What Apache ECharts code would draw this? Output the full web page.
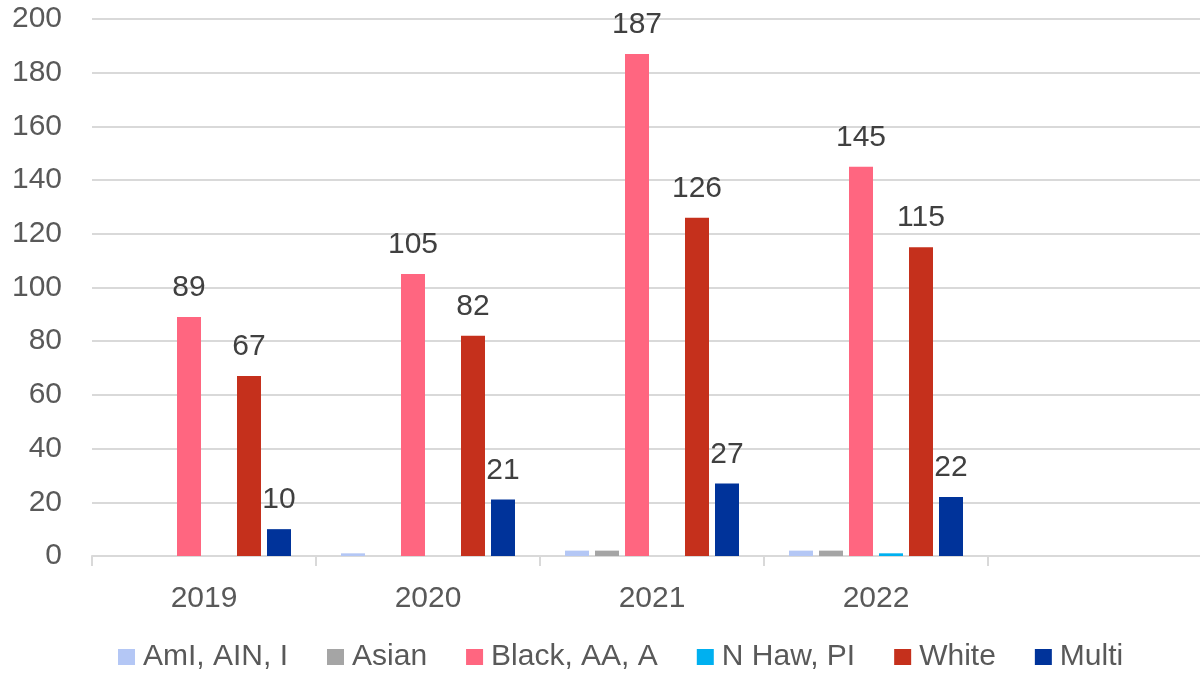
<!DOCTYPE html>
<html><head><meta charset="utf-8">
<script src="https://cdn.jsdelivr.net/npm/echarts@6/dist/echarts.min.js"></script>
<style>html,body{margin:0;padding:0;background:#fff}#c{width:1200px;height:673px}</style>
</head><body><div id="c"></div>
<script>
const categories = ['2019', '2020', '2021', '2022', ''];
const seriesNames = ['AmI, AIN, I', 'Asian', 'Black, AA, A', 'N Haw, PI', 'White', 'Multi'];
const amiValues = [0, 1, 2, 2, null];
const asianValues = [0, 0, 2, 2, null];
const blackValues = [89, 105, 187, 145, null];
const nhawValues = [0, 0, 0, 1, null];
const whiteValues = [67, 82, 126, 115, null];
const multiValues = [10, 21, 27, 22, null];
const yTicks = [0, 20, 40, 60, 80, 100, 120, 140, 160, 180, 200];

const colors = ['#b4c7f5', '#a5a5a5', '#ff6680', '#00b0f0', '#c5301c', '#00339a'];
const font = 'Liberation Sans';
const textColor = '#595959';
const allValues = [amiValues, asianValues, blackValues, nhawValues, whiteValues, multiValues];
const labeled = [false, false, true, false, true, true];

const chart = echarts.init(document.getElementById('c'));
chart.setOption({
  animation: false,
  color: colors,
  textStyle: { fontFamily: font },
  grid: { left: 92, width: 1120, top: 19, bottom: 117, containLabel: false, outerBoundsMode: 'none' },
  legend: {
    top: 637, left: 113, itemWidth: 17, itemHeight: 16, itemGap: 39,
    icon: 'rect',
    textStyle: { fontFamily: font, fontSize: 30, color: textColor, padding: [0, 0, 0, 3] },
    data: seriesNames
  },
  xAxis: {
    type: 'category', data: categories,
    axisLine: { lineStyle: { color: '#d9d9d9', width: 2 } },
    axisTick: { show: true, length: 10, alignWithLabel: false, lineStyle: { color: '#d9d9d9', width: 2 } },
    axisLabel: { fontFamily: font, fontSize: 30, color: textColor, margin: 28 }
  },
  yAxis: {
    type: 'value', min: yTicks[0], max: yTicks[yTicks.length - 1], interval: 20,
    axisLine: { show: false }, axisTick: { show: false },
    splitLine: { lineStyle: { color: '#d9d9d9', width: 2 } },
    axisLabel: { fontFamily: font, fontSize: 30, color: textColor, margin: 30 }
  },
  series: seriesNames.map((n, i) => ({
    name: n, type: 'bar', data: allValues[i], barWidth: 24, barGap: '25%',
    label: { show: labeled[i], position: 'top', distance: 14, fontFamily: font, fontSize: 30, color: '#404040' }
  }))
});
</script></body></html>
